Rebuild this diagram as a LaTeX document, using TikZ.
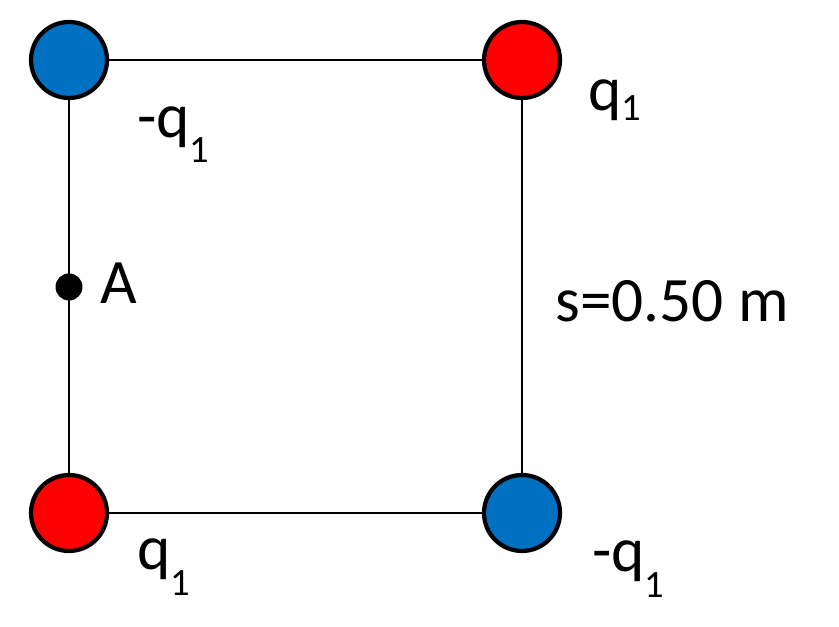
\documentclass[tikz,border=0pt]{standalone}
\usepackage{fontspec}
\setmainfont{Carlito}
\usepackage{xcolor}
\definecolor{qblue}{HTML}{0070C0}
\definecolor{qred}{HTML}{FF0000}

\tikzset{
  charge/.style={circle, draw=black, line width=2.4pt, minimum size=1.52cm, inner sep=0pt},
  side/.style={black, line width=1.1pt},
  label/.style={font=\fontsize{36}{42}\selectfont, inner sep=0pt, anchor=base west},
}
\newcommand{\subone}[1]{\raisebox{#1}{\fontsize{22}{22}\selectfont 1}}

\begin{document}
\begin{tikzpicture}[scale=1.0]
  \useasboundingbox (0,0) rectangle (16.78,12.54);
  \node[charge, fill=qblue] (tl) at (1.38,11.34) {};
  \node[charge, fill=qred] (tr) at (10.44,11.34) {};
  \node[charge, fill=qred] (bl) at (1.38,2.28) {};
  \node[charge, fill=qblue] (br) at (10.44,2.28) {};
  \draw[side] (tl) -- (tr);
  \draw[side] (tr) -- (br);
  \draw[side] (br) -- (bl);
  \draw[side] (bl) -- (tl);
  \node[circle, fill=black, minimum size=0.54cm, inner sep=0pt] (a) at (1.38,6.80) {};
  \node[label] (lA) at (2.0,6.46) {A};
  \node[label] (ltl) at (2.74,9.78) {-q\subone{-0.38em}};
  \node[label] (ltr) at (11.76,10.32) {q\subone{-0.15em}};
  \node[label] (lbl) at (2.74,1.14) {q\subone{-0.4em}};
  \node[label] (lbr) at (11.84,1.10) {-q\subone{-0.4em}};
  \node[label] (side) at (11.10,6.10) {s=0.50 m};
\end{tikzpicture}
\end{document}
